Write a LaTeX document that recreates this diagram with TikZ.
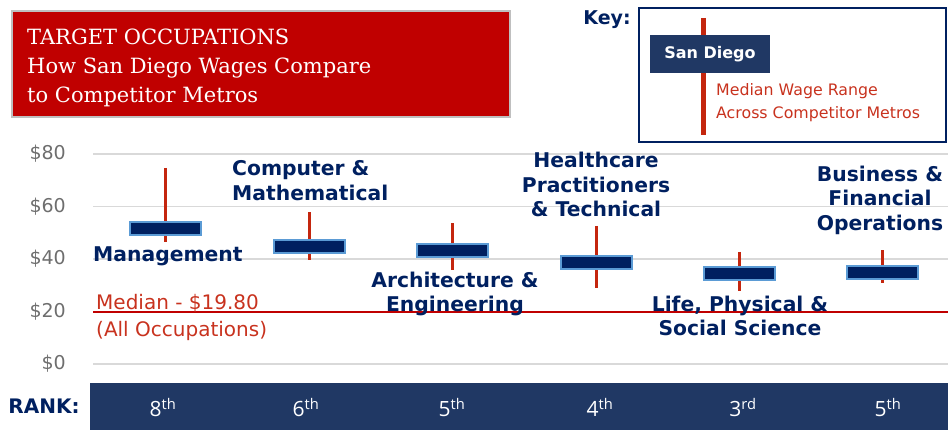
\documentclass[tikz,border=0pt]{standalone}
\usepackage{fontspec}
\setmainfont{DejaVu Sans}
\newfontfamily\titlefont{DejaVu Serif}
\newfontfamily\rankfont{Open Sans}
\usepackage{tikz}
\usetikzlibrary{positioning}
\definecolor{titlered}{HTML}{C00000}
\definecolor{navy}{HTML}{002060}
\definecolor{keynavy}{HTML}{203864}
\definecolor{boxedge}{HTML}{5B9BD5}
\definecolor{wickred}{HTML}{C4260E}
\definecolor{txtred}{HTML}{C8321E}
\definecolor{gridgray}{HTML}{D9D9D9}
\definecolor{axisgray}{HTML}{6E6E6E}
\tikzstyle{candle} = [draw=boxedge, fill=navy, line width=2pt, rectangle,
    inner sep=0pt, minimum width=71pt, minimum height=13pt]
\tikzstyle{wick} = [draw=wickred, line width=3pt]
\tikzstyle{gridline} = [draw=gridgray, line width=1.5pt]
\tikzstyle{occ} = [text=navy, font=\fontsize{20.3}{24.5}\selectfont\bfseries,
    align=center, inner sep=0pt]
\tikzstyle{ylab} = [text=axisgray, font=\fontsize{19}{19}\selectfont,
    anchor=east, inner sep=0pt]
\tikzstyle{rank} = [text=white, font=\rankfont\fontsize{21}{21}\selectfont,
    anchor=base, inner sep=0pt]

\begin{document}
\begin{tikzpicture}[x=1pt, y=1pt]
    \useasboundingbox (0,0) rectangle (948,430);

    \node[draw=gray!50, line width=2pt, fill=titlered, minimum width=498pt,
        minimum height=106pt, inner sep=0pt] (title) at (261,366) {};
    \node[anchor=west, align=left, inner sep=0pt, text=white,
        font=\titlefont\fontsize{21}{29}\selectfont] (titletxt) at (27,362.5)
        {TARGET OCCUPATIONS\\How San Diego Wages Compare\\to Competitor Metros};

    \node[draw=navy, line width=2pt, minimum width=307pt, minimum height=134pt,
        inner sep=0pt] (key) at (792.5,355) {};
    \node[text=navy, font=\fontsize{19}{19}\selectfont\bfseries, inner sep=0pt]
        (keylbl) at (607,410) {Key:};
    \coordinate (keytop) at (703,412);
    \coordinate (keybot) at (703,295);
    \draw[wick, line width=5pt] (keytop) -- (keybot);
    \node[fill=keynavy, minimum width=120pt, minimum height=38pt, inner sep=0pt,
        text=white, font=\fontsize{16}{16}\selectfont\bfseries] (sd) at (710,376)
        {San Diego};
    \node[anchor=west, align=left, inner sep=0pt, text=txtred,
        font=\fontsize{15.8}{23}\selectfont] (keytxt) at (716,327)
        {Median Wage Range\\Across Competitor Metros};

    \begin{scope}[shift={(0,66)}, y=2.625pt]
    \draw[gridline] (93,0) -- (948,0);
    \draw[gridline] (93,20) -- (948,20);
    \draw[gridline] (93,40) -- (948,40);
    \draw[gridline] (93,60) -- (948,60);
    \draw[gridline] (93,80) -- (948,80);
    \node[ylab] (y0) at (66,0) {\$0};
    \node[ylab] (y20) at (66,20) {\$20};
    \node[ylab] (y40) at (66,40) {\$40};
    \node[ylab] (y60) at (66,60) {\$60};
    \node[ylab] (y80) at (66,80) {\$80};

    \coordinate (medL) at (93,19.8);
    \coordinate (medR) at (948,19.8);
    \draw[titlered, line width=1.5pt] (medL) -- (medR);
    \node[anchor=west, align=left, inner sep=0pt, text=txtred,
        font=\fontsize{20}{27}\selectfont] (medlbl) at (96,17.9)
        {Median - \$19.80\\(All Occupations)};

    \coordinate (hiA) at (165,74.7);
    \coordinate (loA) at (165,46.5);
    \draw[wick] (hiA) -- (loA);
    \node[candle] (mgmt) at (165,51.65) {};

    \coordinate (hiB) at (309,57.9);
    \coordinate (loB) at (309,39.6);
    \draw[wick] (hiB) -- (loB);
    \node[candle] (comp) at (309,44.75) {};

    \coordinate (hiC) at (452,53.7);
    \coordinate (loC) at (452,35.8);
    \draw[wick] (hiC) -- (loC);
    \node[candle] (arch) at (452,43.25) {};

    \coordinate (hiD) at (596,52.6);
    \coordinate (loD) at (596,29.0);
    \draw[wick] (hiD) -- (loD);
    \node[candle] (hlth) at (596,38.85) {};

    \coordinate (hiE) at (739,42.7);
    \coordinate (loE) at (739,27.8);
    \draw[wick] (hiE) -- (loE);
    \node[candle] (life) at (739,34.45) {};

    \coordinate (hiF) at (882,43.4);
    \coordinate (loF) at (882,30.9);
    \draw[wick] (hiF) -- (loF);
    \node[candle] (bus) at (882,34.85) {};
    \end{scope}

    \node[occ, anchor=west] (mgmtlbl) at (93,174) {Management};
    \node[occ, anchor=west, align=left] (complbl) at (232,249.5)
        {Computer \&\\Mathematical};
    \node[occ] (archlbl) at (455,136) {Architecture \&\\Engineering};
    \node[occ] (hlthlbl) at (596,245.5) {Healthcare\\Practitioners\\\& Technical};
    \node[occ] (lifelbl) at (740,114) {Life, Physical \&\\Social Science};
    \node[occ] (buslbl) at (880,230) {Business \&\\Financial\\Operations};

    \node[fill=keynavy, minimum width=858pt, minimum height=47pt, inner sep=0pt]
        (bar) at (519,23.5) {};
    \node[text=navy, font=\fontsize{20}{20}\selectfont\bfseries, inner sep=0pt,
        left=10pt of bar] (ranklbl) {RANK:};
    \node[rank] (rA) at (163,13) {8\textsuperscript{th}};
    \node[rank] (rB) at (306,13) {6\textsuperscript{th}};
    \node[rank] (rC) at (452,13) {5\textsuperscript{th}};
    \node[rank] (rD) at (600,13) {4\textsuperscript{th}};
    \node[rank] (rE) at (743,13) {3\textsuperscript{rd}};
    \node[rank] (rF) at (888,13) {5\textsuperscript{th}};
\end{tikzpicture}
\end{document}
